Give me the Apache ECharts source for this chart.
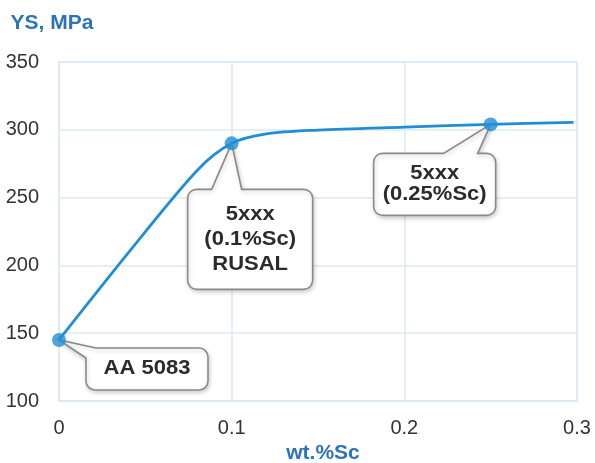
<!DOCTYPE html>
<html>
<head>
<meta charset="utf-8">
<script src="https://cdn.jsdelivr.net/npm/echarts@6/dist/echarts.min.js"></script>
<style>
  html, body { margin: 0; padding: 0; background: #ffffff; }
  #chart { width: 595px; height: 463px; }
</style>
</head>
<body>
<div id="chart"></div>
<script>
// Yield strength curve vs. scandium content
const scContent = [0, 0.04, 0.08, 0.1, 0.12, 0.15, 0.2, 0.25, 0.298];
const yieldStrength = [145, 209, 270, 290, 297, 299.8, 302, 304, 305.5];

// Marked alloys
const alloyX = [0, 0.1, 0.25];
const alloyY = [145, 290, 304];
const alloyLabels = [
  ['AA 5083'],
  ['5xxx', '(0.1%Sc)', 'RUSAL'],
  ['5xxx', '(0.25%Sc)']
];

const xTickLabels = ['0', '0.1', '0.2', '0.3'];
const yTickLabels = ['100', '150', '200', '250', '300', '350'];

// Callout box geometry relative to the marker (pixels)
const bubbleLayout = [
  { dx: 27, dy: 8, w: 122, h: 42, tail: 'corner', lineH: 24 },
  { dx: -44, dy: 46, w: 125, h: 100, tail: 'top', t1: 24, t2: 54, lineH: 25 },
  { dx: -117, dy: 29, w: 122, h: 62, tail: 'top', t1: 70, t2: 104, lineH: 21 }
];

const BLUE = '#1f8ed6';
const GRID = '#dce9f4';
const FONT = '"Liberation Sans", Arial, sans-serif';

function bubblePath(tx, ty, L, T, w, h, r, lay) {
  const R = L + w, B = T + h;
  let p = '';
  if (lay.tail === 'corner') {
    p += 'M' + (L + 10) + ' ' + T;
  } else {
    p += 'M' + (L + lay.t2) + ' ' + T;
  }
  p += ' L' + (R - r) + ' ' + T;
  p += ' A' + r + ' ' + r + ' 0 0 1 ' + R + ' ' + (T + r);
  p += ' L' + R + ' ' + (B - r);
  p += ' A' + r + ' ' + r + ' 0 0 1 ' + (R - r) + ' ' + B;
  p += ' L' + (L + r) + ' ' + B;
  p += ' A' + r + ' ' + r + ' 0 0 1 ' + L + ' ' + (B - r);
  if (lay.tail === 'corner') {
    p += ' L' + L + ' ' + (T + 10);
  } else {
    p += ' L' + L + ' ' + (T + r);
    p += ' A' + r + ' ' + r + ' 0 0 1 ' + (L + r) + ' ' + T;
    p += ' L' + (L + lay.t1) + ' ' + T;
  }
  p += ' L' + tx + ' ' + ty + ' Z';
  return p;
}

function renderBubble(params, api) {
  const i = params.dataIndex;
  const lay = bubbleLayout[i];
  const pt = api.coord([api.value(0), api.value(1)]);
  const L = pt[0] + lay.dx, T = pt[1] + lay.dy;
  const lines = alloyLabels[i];
  const children = [{
    type: 'path',
    shape: { pathData: bubblePath(pt[0], pt[1], L, T, lay.w, lay.h, 9, lay) },
    style: {
      fill: '#ffffff', stroke: '#8a8a8a', lineWidth: 1.6,
      shadowBlur: 4, shadowColor: 'rgba(0,0,0,0.18)', shadowOffsetX: 1, shadowOffsetY: 2
    },
    z2: 1
  }];
  const cx = L + lay.w / 2;
  const cy = T + lay.h / 2;
  const start = cy - (lines.length - 1) * lay.lineH / 2;
  lines.forEach(function (s, k) {
    children.push({
      type: 'text',
      x: cx, y: start + k * lay.lineH,
      scaleX: 1.1,
      style: {
        text: s, fill: '#2b2b2b',
        font: 'bold 20px ' + FONT,
        align: 'center', verticalAlign: 'middle'
      },
      z2: 2
    });
  });
  return { type: 'group', children: children };
}

const chart = echarts.init(document.getElementById('chart'), null, { renderer: 'canvas' });
chart.setOption({
  animation: false,
  backgroundColor: '#ffffff',
  grid: {
    left: 59, right: 18, top: 62, bottom: 62,
    outerBoundsMode: 'none', containLabel: false,
    show: true, borderColor: GRID, borderWidth: 1.5
  },
  xAxis: {
    type: 'value', min: 0, max: 0.3, interval: 0.1,
    name: 'wt.%Sc', nameLocation: 'middle', nameGap: 52,
    nameTextStyle: { color: '#2e72b8', fontWeight: 'bold', fontSize: 21, fontFamily: FONT, verticalAlign: 'middle', padding: [0, 0, 0, 10] },
    axisLine: { show: true, lineStyle: { color: GRID, width: 1.5 } },
    axisTick: { show: false },
    splitLine: { show: true, lineStyle: { color: GRID, width: 1.5 } },
    axisLabel: {
      color: '#333333', fontSize: 20, fontFamily: FONT, margin: 17,
      formatter: function (v) { return xTickLabels[Math.round(v * 10)]; }
    }
  },
  yAxis: {
    type: 'value', min: 100, max: 350, interval: 50,
    name: 'YS, MPa', nameLocation: 'end', nameGap: 39,
    nameTextStyle: { color: '#2e72b8', fontWeight: 'bold', fontSize: 21, fontFamily: FONT, align: 'center', verticalAlign: 'middle', padding: [0, 14, 0, 0] },
    axisLine: { show: true, lineStyle: { color: GRID, width: 1.5 } },
    axisTick: { show: false },
    splitLine: { show: true, lineStyle: { color: GRID, width: 1.5 } },
    axisLabel: {
      color: '#333333', fontSize: 20, fontFamily: FONT, margin: 20,
      formatter: function (v) { return yTickLabels[Math.round((v - 100) / 50)]; }
    }
  },
  series: [
    {
      type: 'line',
      data: scContent.map(function (x, i) { return [x, yieldStrength[i]]; }),
      smooth: 0.3,
      showSymbol: false,
      lineStyle: { color: BLUE, width: 2.8 },
      z: 2
    },
    {
      type: 'custom',
      data: alloyX.map(function (x, i) { return [x, alloyY[i]]; }),
      renderItem: renderBubble,
      clip: false,
      z: 3
    },
    {
      type: 'scatter',
      data: alloyX.map(function (x, i) { return [x, alloyY[i]]; }),
      symbolSize: 14,
      itemStyle: { color: BLUE },
      z: 4
    }
  ]
});
</script>
</body>
</html>
